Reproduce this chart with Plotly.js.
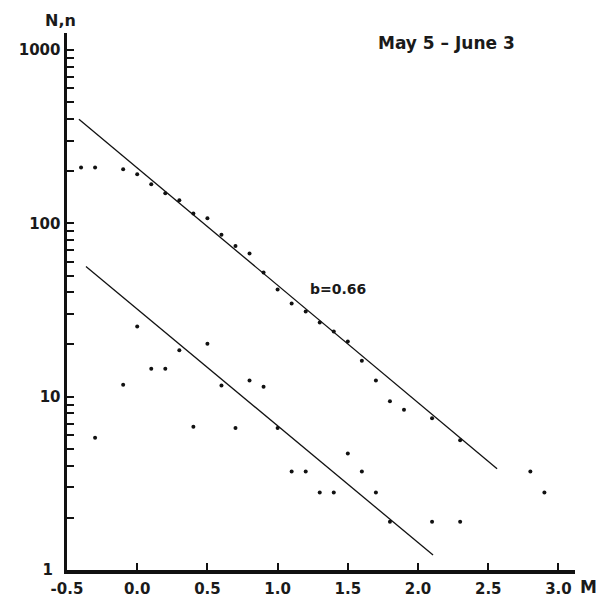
<!DOCTYPE html>
<html>
<head>
<meta charset="utf-8">
<script src="https://cdn.plot.ly/plotly-3.0.1.min.js"></script>
<style>html,body{margin:0;padding:0;background:#fff;}#chart{width:607px;height:608px;}</style>
</head>
<body>
<div id="chart"></div>
<script>
// Cumulative number N (upper series)
const magUpper = [-0.4,-0.3,-0.1,0.0,0.1,0.2,0.3,0.4,0.5,0.6,0.7,0.8,0.9,1.0,1.1,1.2,1.3,1.4,1.5,1.6,1.7,1.8,1.9,2.1,2.3,2.8,2.9];
const countUpper = [210,210,205,192,168,149,136,114,107,86,74,67,52,41.5,34.5,31,26.8,23.8,20.8,16.1,12.4,9.4,8.4,7.5,5.6,3.7,2.8];
// Incremental number n (lower series)
const magLower = [-0.3,-0.1,0.0,0.1,0.2,0.3,0.4,0.5,0.6,0.7,0.8,0.9,1.0,1.1,1.2,1.3,1.4,1.5,1.6,1.7,1.8,2.1,2.3];
const countLower = [5.8,11.7,25.4,14.5,14.5,18.5,6.7,20.2,11.6,6.6,12.4,11.4,6.6,3.7,3.7,2.8,2.8,4.7,3.7,2.8,1.9,1.9,1.9];
// Fitted lines (endpoints)
const fitUpperX = [-0.415, 2.563];
const fitUpperY = [399, 3.84];
const fitLowerX = [-0.365, 2.107];
const fitLowerY = [56.4, 1.22];
// Tick labels
const xTickVals = [-0.5,0,0.5,1,1.5,2,2.5,3];
const xTickText = ["-0.5","0.0","0.5","1.0","1.5","2.0","2.5","3.0"];
const yTickVals = [1,2,3,4,5,6,7,8,9,10,20,30,40,50,60,70,80,90,100,200,300,400,500,600,700,800,900,1000];
const yTickText = ["1\u2002","","","","","","","","","10","","","","","","","","","100","","","","","","","","","1000"];

const W = 607, H = 608, L = 67, R = 32, T = 33, B = 38;
const px = x => (x - L) / (W - L - R);
const py = y => (H - B - y) / (H - T - B);
const txt = {family: "DejaVu Sans, sans-serif", color: "#1a1a1a", weight: "bold"};

const traces = [
  {x: fitUpperX, y: fitUpperY, mode: "lines", line: {color: "#111", width: 1.3}, hoverinfo: "skip"},
  {x: fitLowerX, y: fitLowerY, mode: "lines", line: {color: "#111", width: 1.3}, hoverinfo: "skip"},
  {x: magUpper, y: countUpper, mode: "markers", marker: {color: "#111", size: 4}},
  {x: magLower, y: countLower, mode: "markers", marker: {color: "#111", size: 4}}
];

const layout = {
  width: W, height: H,
  margin: {l: L, r: R, t: T, b: B, pad: 0},
  paper_bgcolor: "#fff", plot_bgcolor: "#fff",
  showlegend: false,
  xaxis: {
    range: [-0.5, 3.118], showgrid: false, zeroline: false,
    showline: true, linecolor: "#111", linewidth: 3.5,
    ticks: "inside", ticklen: 7, tickwidth: 2, tickcolor: "#111",
    tickmode: "array", tickvals: xTickVals, ticktext: xTickText,
    ticklabelstandoff: 2,
    tickfont: Object.assign({size: 15}, txt)
  },
  yaxis: {
    type: "log", range: [0, 3.098], showgrid: false, zeroline: false,
    showline: true, linecolor: "#111", linewidth: 3.5,
    ticks: "inside", ticklen: 7, tickwidth: 2, tickcolor: "#111",
    tickmode: "array", tickvals: yTickVals, ticktext: yTickText,
    tickfont: Object.assign({size: 15}, txt)
  },
  annotations: [
    {xref: "paper", yref: "paper", x: px(446), y: py(43), text: "May 5 \u2013 June 3", showarrow: false,
     font: Object.assign({size: 17}, txt), xanchor: "center", yanchor: "middle"},
    {xref: "paper", yref: "paper", x: px(338), y: py(289), text: "b=0.66", showarrow: false,
     font: Object.assign({size: 14}, txt), xanchor: "center", yanchor: "middle"},
    {xref: "paper", yref: "paper", x: px(60), y: py(20), text: "N,n", showarrow: false,
     font: Object.assign({size: 16}, txt), xanchor: "center", yanchor: "middle"},
    {xref: "paper", yref: "paper", x: px(588), y: py(587), text: "M", showarrow: false,
     font: Object.assign({size: 17}, txt), xanchor: "center", yanchor: "middle"}
  ]
};

Plotly.newPlot("chart", traces, layout, {staticPlot: true, displayModeBar: false});
</script>
</body>
</html>
